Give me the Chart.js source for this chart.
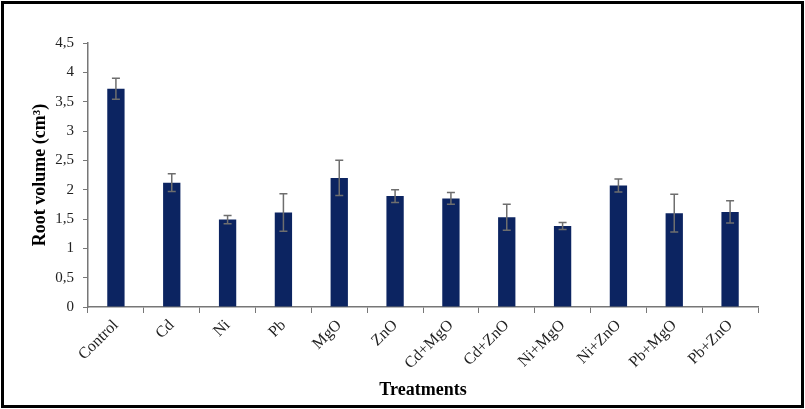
<!DOCTYPE html>
<html>
<head>
<meta charset="utf-8">
<script src="https://cdn.jsdelivr.net/npm/chart.js@4.4.1/dist/chart.umd.min.js"></script>
<style>
  html, body { margin: 0; padding: 0; background: #fff; }
  #wrap { width: 805px; height: 409px; position: relative; }
</style>
</head>
<body>
<div id="wrap"><canvas id="rootChart" width="805" height="409"></canvas></div>
<script>
// Data
const treatments = ['Control', 'Cd', 'Ni', 'Pb', 'MgO', 'ZnO', 'Cd+MgO', 'Cd+ZnO', 'Ni+MgO', 'Ni+ZnO', 'Pb+MgO', 'Pb+ZnO'];
const rootVolume = [3.72, 2.12, 1.49, 1.61, 2.20, 1.89, 1.85, 1.53, 1.38, 2.07, 1.60, 1.62];
const errors = [0.18, 0.15, 0.07, 0.32, 0.30, 0.11, 0.10, 0.22, 0.06, 0.11, 0.32, 0.19];
const yTicks = [0, 0.5, 1, 1.5, 2, 2.5, 3, 3.5, 4, 4.5];

const serif = "'Liberation Serif', 'DejaVu Serif', serif";

// Draws the frame around the whole figure
const framePlugin = {
    id: 'frame',
    afterDraw(chart) {
        const ctx = chart.ctx;
        ctx.save();
        ctx.strokeStyle = '#000';
        ctx.lineWidth = 3;
        ctx.strokeRect(2.5, 2.5, chart.width - 5, chart.height - 5);
        ctx.restore();
    }
};

// Error bars with caps, positioned through the chart scales
const errorBarPlugin = {
    id: 'errorBars',
    afterDatasetsDraw(chart) {
        const ctx = chart.ctx;
        const x = chart.scales.x;
        const y = chart.scales.y;
        ctx.save();
        ctx.strokeStyle = '#6e6e6e';
        ctx.lineWidth = 1.5;
        rootVolume.forEach((v, i) => {
            const cx = x.getPixelForValue(i);
            const top = y.getPixelForValue(v + errors[i]);
            const bot = y.getPixelForValue(v - errors[i]);
            ctx.beginPath();
            ctx.moveTo(cx, top);
            ctx.lineTo(cx, bot);
            ctx.moveTo(cx - 4, top);
            ctx.lineTo(cx + 4, top);
            ctx.moveTo(cx - 4, bot);
            ctx.lineTo(cx + 4, bot);
            ctx.stroke();
        });
        ctx.restore();
    }
};

new Chart(document.getElementById('rootChart'), {
    type: 'bar',
    data: {
        labels: treatments,
        datasets: [{
            data: rootVolume,
            backgroundColor: '#0c2461',
            barPercentage: 0.31,
            categoryPercentage: 1.0
        }]
    },
    options: {
        responsive: false,
        animation: false,
        events: [],
        layout: { padding: { top: 43, right: 47, left: 0, bottom: 0 } },
        plugins: {
            legend: { display: false },
            tooltip: { enabled: false }
        },
        scales: {
            x: {
                grid: {
                    offset: true,
                    drawOnChartArea: false,
                    color: '#777',
                    tickLength: 6
                },
                border: { color: '#777', width: 1.5 },
                ticks: {
                    color: '#222',
                    font: { family: serif, size: 16 },
                    minRotation: 45,
                    maxRotation: 45,
                    autoSkip: false,
                    padding: 3
                },
                title: {
                    display: true,
                    text: 'Treatments',
                    color: '#000',
                    font: { family: serif, size: 18, weight: 'bold' },
                    padding: { top: 4, bottom: 8 }
                },
                afterFit: (s) => { s.height = 102; }
            },
            y: {
                min: 0,
                max: 4.5,
                afterBuildTicks: (s) => { s.ticks = yTicks.map(v => ({ value: v })); },
                grid: {
                    drawOnChartArea: false,
                    color: '#777',
                    tickLength: 5
                },
                border: { color: '#777', width: 1.5 },
                ticks: {
                    color: '#222',
                    font: { family: serif, size: 15 },
                    padding: 9,
                    callback: (v) => String(v).replace('.', ',')
                },
                title: {
                    display: true,
                    text: 'Root volume (cm³)',
                    color: '#000',
                    font: { family: serif, size: 18, weight: 'bold' },
                    padding: { top: 30, bottom: 4 }
                },
                afterFit: (s) => { s.width = 88; }
            }
        }
    },
    plugins: [errorBarPlugin, framePlugin]
});
</script>
</body>
</html>
